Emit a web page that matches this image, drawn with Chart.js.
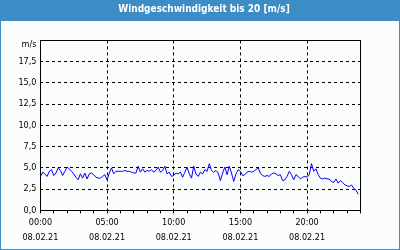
<!DOCTYPE html>
<html><head><meta charset="utf-8">
<script src="https://cdn.jsdelivr.net/npm/chart.js@4"></script>
<style>html,body{margin:0;padding:0;background:#fff}canvas{display:block}</style>
</head><body>
<canvas id="c" width="400" height="250"></canvas>
<script>
const titleText = 'Windgeschwindigkeit bis 20 [m/s]';
const dateLabel = '08.02.21';
const xTickHours = [0, 5, 10, 15, 20];
const xTickLabels = ['00:00', '05:00', '10:00', '15:00', '20:00'];
const yUnitLabel = 'm/s';
const sampleMinutes = 10;
const windSpeed = [
  4.0, 4.5, 4.3, 4.0, 4.6, 4.8, 4.1, 4.4, 5.0, 4.7, 4.1, 4.6,
  5.1, 4.9, 4.6, 4.3, 3.9, 3.6, 4.3, 3.8, 4.4, 3.7, 4.3, 4.4,
  4.2, 3.9, 3.8, 3.8, 4.0, 4.2, 3.6, 4.4, 5.0, 4.3, 4.6, 4.6,
  4.6, 4.6, 4.7, 4.6, 4.6, 4.5, 4.4, 4.4, 5.2, 4.5, 4.9, 4.5,
  4.7, 4.6, 4.8, 4.5, 4.7, 5.1, 4.5, 4.7, 5.2, 4.3, 4.5, 4.0,
  4.1, 4.4, 4.3, 4.5, 3.9, 4.5, 5.1, 4.3, 3.8, 5.2, 4.3, 4.0,
  4.5, 4.3, 4.8, 4.6, 5.5, 4.7, 4.5, 4.7, 4.4, 3.5, 4.4, 5.1,
  4.2, 5.2, 4.4, 3.4, 4.3, 4.8, 4.6, 4.1, 4.2, 4.5, 4.6, 4.5,
  4.6, 4.8, 5.0, 4.4, 4.1, 4.0, 4.1, 4.0, 4.3, 4.4, 4.3, 4.1,
  4.2, 3.5, 3.6, 4.0, 4.6, 4.2, 3.6, 4.2, 4.0, 3.7, 3.9, 4.0,
  3.9, 4.2, 5.5, 4.6, 4.9, 4.2, 3.8, 3.7, 3.8, 3.7, 3.7, 3.4,
  3.3, 3.7, 3.2, 3.5, 3.3, 3.0, 2.9, 2.8, 3.0, 2.6, 2.4, 1.9
];

const headerBlue = '#3c8dc5';
const fontFamily = "'DejaVu Sans Condensed', 'Liberation Sans', sans-serif";

const framePlugin = {
  id: 'frame',
  beforeDraw(chart) {
    const c = chart.ctx;
    c.save();
    c.fillStyle = '#fbfdfd';
    c.fillRect(0, 0, chart.width, chart.height);
    c.fillStyle = headerBlue;
    c.fillRect(0, 0, chart.width, 21);
    c.strokeStyle = headerBlue;
    c.lineWidth = 1;
    c.strokeRect(0.5, 0.5, chart.width - 1, chart.height - 1);
    c.restore();
  },
  beforeDatasetsDraw(chart) {
    const a = chart.chartArea;
    const c = chart.ctx;
    const al = v => Math.round(v - 0.5) + 0.5;
    const l = al(a.left), t = al(a.top), r = al(a.right), b = al(a.bottom);
    c.save();
    c.strokeStyle = '#000';
    c.lineWidth = 1;
    c.setLineDash([]);
    c.strokeRect(l, t, r - l, b - t);
    c.restore();
  }
};

new Chart(document.getElementById('c'), {
  type: 'line',
  data: {
    datasets: [{
      data: windSpeed.map((v, i) => ({ x: i * sampleMinutes / 60, y: v })),
      borderColor: '#0000ff',
      borderWidth: 1,
      pointRadius: 0,
      fill: false,
      tension: 0
    }]
  },
  options: {
    responsive: false,
    animation: false,
    devicePixelRatio: 1,
    layout: { padding: { left: 8, right: 0, top: 0, bottom: 0 } },
    plugins: {
      legend: { display: false },
      tooltip: { enabled: false },
      title: {
        display: true,
        text: titleText,
        color: '#ffffff',
        font: { family: fontFamily, size: 10, weight: 'bold', lineHeight: 1.2 },
        padding: { top: 3, bottom: 25.4 }
      }
    },
    scales: {
      x: {
        type: 'linear',
        position: 'bottom',
        min: 0,
        max: 24,
        afterFit(s) { s.height = 39.6; },
        ticks: {
          stepSize: 1,
          autoSkip: false,
          maxRotation: 0,
          minRotation: 0,
          padding: 2,
          color: '#000',
          font: { family: fontFamily, size: 9, lineHeight: '15px' },
          callback(v) {
            const k = xTickHours.indexOf(v);
            return k < 0 ? '' : [xTickLabels[k], dateLabel];
          }
        },
        grid: {
          color: ctx => (ctx.tick && ctx.tick.value > 0 && xTickHours.includes(ctx.tick.value)) ? '#000' : 'rgba(0,0,0,0)',
          lineWidth: 1,
          drawTicks: true,
          tickLength: 3,
          tickColor: '#000',
          tickWidth: 1,
          tickBorderDash: []
        },
        border: { display: false, dash: [3, 3] }
      },
      y: {
        type: 'linear',
        position: 'left',
        min: 0,
        max: 20,
        afterFit(s) { s.width = 32.4; },
        ticks: {
          stepSize: 2.5,
          padding: 4,
          color: '#000',
          font: { family: fontFamily, size: 9, lineHeight: 0.9 },
          callback(v) {
            if (v === 20) return ['', yUnitLabel];
            return v.toFixed(1).replace('.', ',');
          }
        },
        grid: {
          color: ctx => (ctx.tick && ctx.tick.value > 0 && ctx.tick.value < 20) ? '#000' : 'rgba(0,0,0,0)',
          lineWidth: 1,
          drawTicks: false
        },
        border: { display: false, dash: [3, 3] }
      },
      y2: {
        type: 'linear',
        position: 'right',
        display: true,
        afterFit(s) { s.width = 39.6; },
        ticks: { display: false },
        grid: { display: false },
        border: { display: false }
      }
    }
  },
  plugins: [framePlugin]
});
</script>
</body></html>
